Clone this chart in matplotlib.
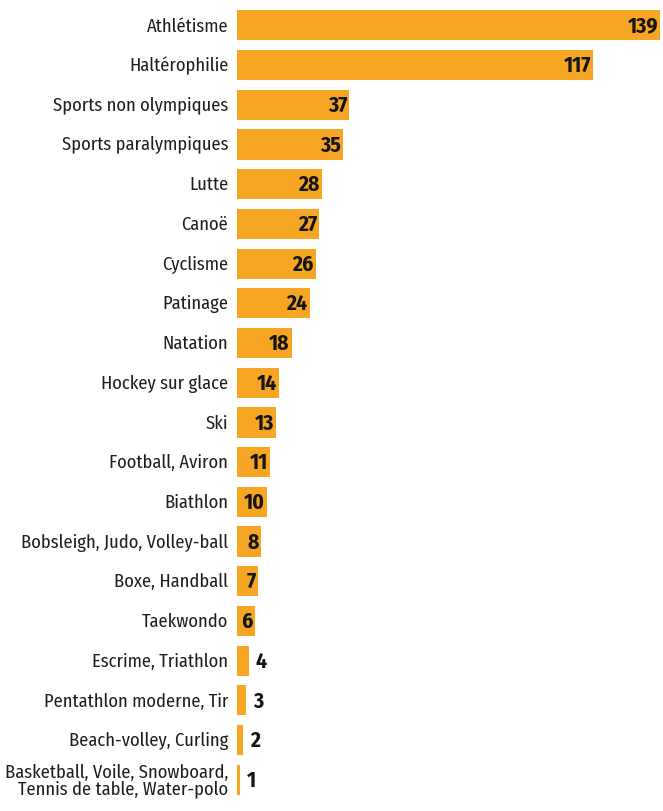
import matplotlib.pyplot as plt

sports = ["Athlétisme", "Haltérophilie", "Sports non olympiques", "Sports paralympiques",
          "Lutte", "Canoë", "Cyclisme", "Patinage", "Natation", "Hockey sur glace", "Ski",
          "Football, Aviron", "Biathlon", "Bobsleigh, Judo, Volley-ball", "Boxe, Handball",
          "Taekwondo", "Escrime, Triathlon", "Pentathlon moderne, Tir",
          "Beach-volley, Curling", "Basketball, Voile, Snowboard,\nTennis de table, Water-polo"]
cases = [139, 117, 37, 35, 28, 27, 26, 24, 18, 14, 13, 11, 10, 8, 7, 6, 4, 3, 2, 1]

plt.rcParams['font.family'] = ['Fira Sans Condensed', 'DejaVu Sans']

orange = "#F6A623"
fig = plt.figure(figsize=(6.63, 8.12), dpi=100)
ax = fig.add_axes([0.357, 0.014, 0.643, 0.978])

y = list(range(len(sports)))
ax.barh(y, cases, height=0.76, color=orange)
ax.set_ylim(len(sports) - 0.5, -0.5)
ax.set_xlim(0, 140)

for i, (s, v) in enumerate(zip(sports, cases)):
    ax.annotate(s, (0, i), xytext=(-6, 0), textcoords="offset points",
                ha="right", va="center", fontsize=13.3, color="#1e1e1e",
                linespacing=0.9)
    if v >= 6:
        ax.annotate(str(v), (v, i), xytext=(-1.5, 0), textcoords="offset points",
                    ha="right", va="center", fontsize=15.5, fontweight="bold", color="#151515")
    else:
        ax.annotate(str(v), (v, i), xytext=(5, 0), textcoords="offset points",
                    ha="left", va="center", fontsize=15.5, fontweight="bold", color="#151515")

ax.axis("off")
fig.savefig("out.png", dpi=100)
